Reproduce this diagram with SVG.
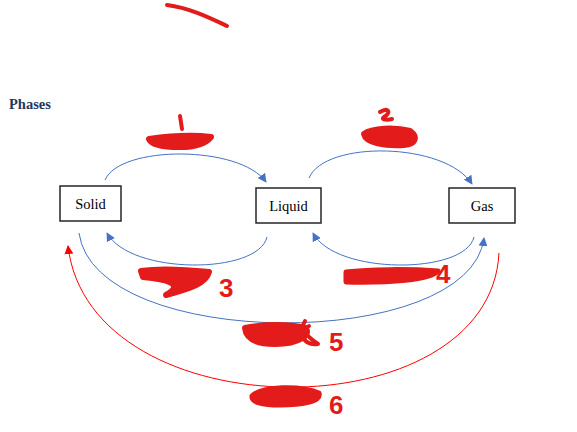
<svg xmlns="http://www.w3.org/2000/svg" width="577" height="432" viewBox="0 0 577 432">
<style>
.box{fill:#fff;stroke:#262626;stroke-width:1.5}
.lbl{font-family:"Liberation Serif","DejaVu Serif",serif;font-size:14.5px;fill:#000;text-anchor:middle}
.title{font-family:"Liberation Serif","DejaVu Serif",serif;font-size:14.5px;font-weight:bold;fill:#1F3864}
.blue{fill:none;stroke:#4472C4;stroke-width:1}
.red{fill:none;stroke:#FF0000;stroke-width:1}
.scr{fill:#E31B1B;stroke:#E31B1B;stroke-linejoin:round;stroke-linecap:round}
.ink{fill:none;stroke:#E31B1B;stroke-width:4;stroke-linecap:round;stroke-linejoin:round}
.num{font-family:"Liberation Sans","DejaVu Sans",sans-serif;font-size:26px;font-weight:bold;fill:#E31B1B}
</style>
<defs>
<marker id="ab" viewBox="0 0 10 10" refX="9" refY="5" markerWidth="9" markerHeight="9" markerUnits="userSpaceOnUse" orient="auto"><path d="M0,0 L10,5 L0,10 Z" fill="#4472C4"/></marker>
<marker id="ar" viewBox="0 0 10 10" refX="9" refY="5" markerWidth="9" markerHeight="9" markerUnits="userSpaceOnUse" orient="auto"><path d="M0,0 L10,5 L0,10 Z" fill="#FF0000"/></marker>
</defs>
<rect width="577" height="432" fill="#fff"/>
<text class="title" x="9" y="109">Phases</text>
<g id="connectors">
<path class="blue" d="M105,180 C120,145 240,145 266,182" marker-end="url(#ab)"/>
<path class="blue" d="M309,178 C325,140 445,142 472,184" marker-end="url(#ab)"/>
<path class="blue" d="M267,237 C258,275 130,275 107,233" marker-end="url(#ab)"/>
<path class="blue" d="M474,237 C465,275 335,275 313,233" marker-end="url(#ab)"/>
<path class="blue" d="M79,233 C95,352 470,352 484,238" marker-end="url(#ab)"/>
<path class="red" d="M499,253 C490,433 90,433 68,246" marker-end="url(#ar)"/>
</g>
<g id="solid"><rect class="box" x="60" y="186" width="61" height="35"/><text class="lbl" x="90.5" y="208.5">Solid</text></g>
<g id="liquid"><rect class="box" x="256" y="188" width="65" height="35"/><text class="lbl" x="288.5" y="211">Liquid</text></g>
<g id="gas"><rect class="box" x="449" y="188" width="66" height="35"/><text class="lbl" x="482" y="211">Gas</text></g>
<g id="scribbles">
<path class="ink" d="M167,5 C190,8 210,18 227,26"/>
<path class="scr" stroke-width="6" d="M149,139 C170,136 195,135 211,137 C206,143 198,147 180,147 C165,147 151,145 149,139 Z"/>
<path class="ink" d="M180,116 L182,129"/>
<path class="scr" stroke-width="6" d="M364,134 C372,128 395,127 410,131 C418,137 416,144 404,145 C385,146 366,143 364,134 Z"/>
<path class="ink" stroke-width="3" d="M380,112 C388,107 392,112 384,117 C380,120 388,120 392,119"/>
<path class="scr" stroke-width="6" d="M141,271 C160,268 190,270 209,272 C206,283 192,288 166,295 C186,284 166,279 143,277 Z"/>
<path class="scr" stroke-width="5" d="M346,272 C370,269 410,269 438,271 C430,280 390,283 346,282 Z"/>
<path class="scr" stroke-width="6" d="M245,328 C265,324 290,324 305,328 C312,334 300,344 275,344 C255,344 246,338 245,328 Z"/>
<path class="ink" stroke-width="4" d="M305,321 C298,333 303,346 318,344 C308,337 300,330 309,326"/>
<path class="scr" stroke-width="5" d="M252,396 C262,386 300,385 319,393 C322,402 300,405 280,405 C262,405 251,402 252,396 Z"/>
</g>
<g id="numbers">
<text class="num" x="219" y="297">3</text>
<text class="num" x="436" y="283">4</text>
<text class="num" x="329" y="351">5</text>
<text class="num" x="329" y="414">6</text>
</g>
</svg>
